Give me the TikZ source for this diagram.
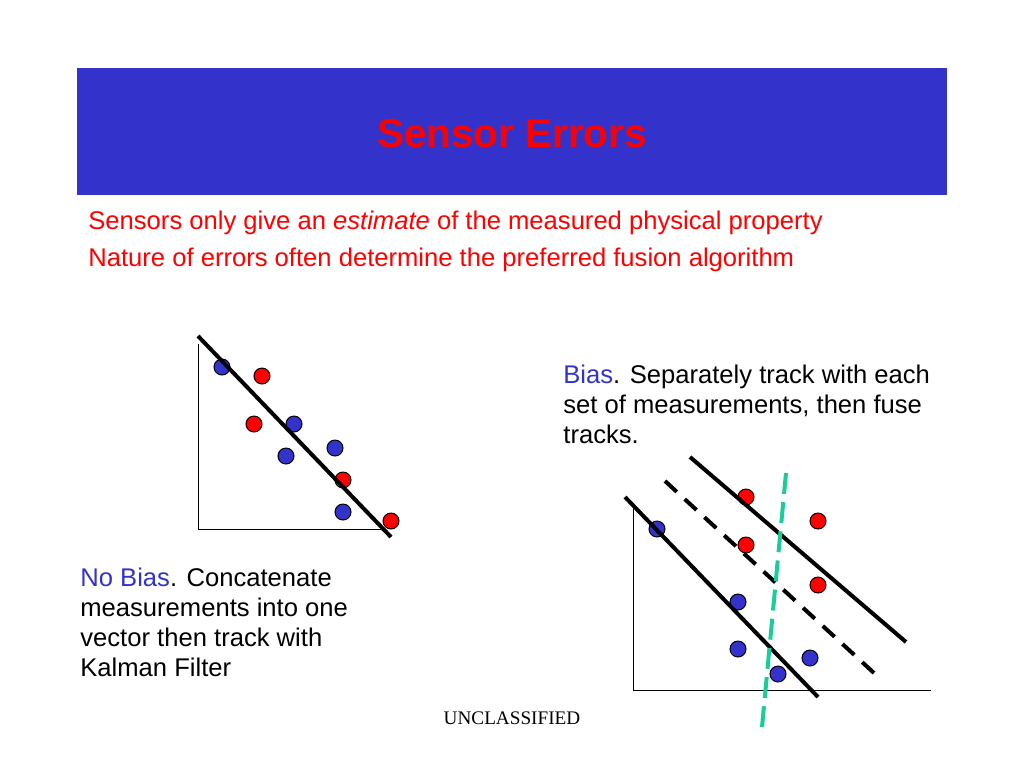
\documentclass[tikz,border=0pt]{standalone}
\usepackage{fontspec}
\setmainfont{Liberation Sans}
\newfontfamily\footerfont{Liberation Serif}
\definecolor{slideblue}{RGB}{51,51,204}
\definecolor{fusegreen}{RGB}{26,204,153}
\tikzset{
  dot/.style={circle,draw=black,line width=0.5pt,inner sep=0pt,minimum size=8pt},
  bluedot/.style={dot,fill=slideblue},
  reddot/.style={dot,fill=red},
  fitline/.style={line width=2pt},
  axisline/.style={line width=0.5pt},
  bodytext/.style={anchor=base west,inner sep=0pt,align=left,font=\fontsize{12.8}{15}\selectfont}
}
\begin{document}
\begin{tikzpicture}[x=0.5pt,y=-0.5pt]
    \useasboundingbox (0,0) rectangle (1024,768);
    % title band
    \fill [slideblue] (77,68) rectangle (947,195);
    \node [red,font=\bfseries\fontsize{20.2}{24}\selectfont] (title) at (512,134) {Sensor Errors};
    % base anchor sits on the last line
    \node [bodytext,red,font=\fontsize{12.8}{18.3}\selectfont] (intro) at (88,266)
        {Sensors only give an \textit{estimate} of the measured physical property\\
         Nature of errors often determine the preferred fusion algorithm};
    % no bias
    \draw [axisline] (198,344) -- (198,529) -- (384,529);
    \foreach \x/\y [count=\i] in {222/367,294/424,335/448,286/456,343/512}
        \node [bluedot] (nb\i) at (\x,\y) {};
    \foreach \x/\y [count=\i] in {262/376,254/424,343/480,391/521}
        \node [reddot] (nr\i) at (\x,\y) {};
    \draw [fitline] (198,336) -- (391,537);
    \node [bodytext] (nobias) at (80,676)
        {\textcolor{slideblue}{No Bias}. Concatenate\\ measurements into one\\
         vector then track with\\ Kalman Filter};
    % bias
    \draw [axisline] (633,505) -- (633,690) -- (931,690);
    \foreach \x/\y [count=\i] in {657/529,738/602,738/649,810/658,778/674}
        \node [bluedot] (bb\i) at (\x,\y) {};
    \foreach \x/\y [count=\i] in {746/497,818/521,746/545,818/585}
        \node [reddot] (br\i) at (\x,\y) {};
    \draw [fitline] (625,497) -- (818,697);
    \draw [fitline,dash pattern=on 8pt off 5.39pt] (665,481) -- (874,673);
    \draw [fitline] (690,457) -- (906,642);
    \draw [fitline,fusegreen,dash pattern=on 10.5pt off 4.14pt] (786,473) -- (762,727);
    \node [bodytext] (bias) at (563,443)
        {\textcolor{slideblue}{Bias}. Separately track with each\\ set of measurements, then fuse\\ tracks.};
    \node [font=\footerfont\fontsize{9.6}{11}\selectfont] (footer) at (512,718) {UNCLASSIFIED};
\end{tikzpicture}
\end{document}
